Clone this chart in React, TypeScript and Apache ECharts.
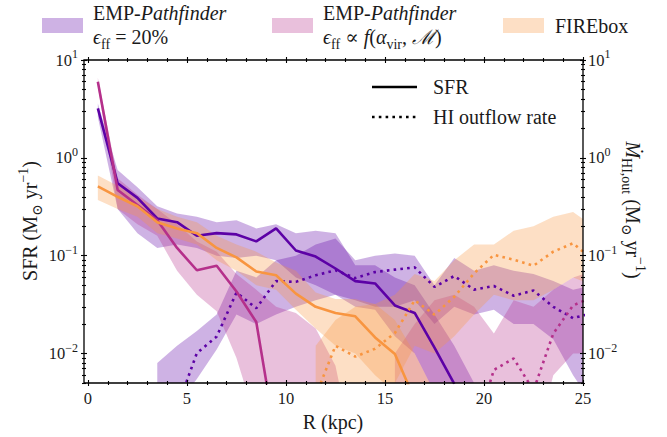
import React, { useEffect, useRef } from 'react';
import * as echarts from 'echarts';

// Bin centres (kpc)
const R = [0.5, 1.5, 2.5, 3.5, 4.5, 5.5, 6.5, 7.5, 8.5, 9.5, 10.5, 11.5, 12.5, 13.5, 14.5, 15.5, 16.5, 17.5, 18.5, 19.5, 20.5, 21.5, 22.5, 23.5, 24.5, 25.5];

// EMP-Pathfinder, eps_ff = 20%
const sfrA = [3.2, 0.55, 0.39, 0.24, 0.22, 0.16, 0.17, 0.165, 0.14, 0.19, 0.113, 0.098, 0.074, 0.055, 0.052, 0.031, 0.026, 0.0115, 0.0049, null, null, null, null, null, null, null];
const sfrAHi = [3.6, 0.75, 0.5, 0.32, 0.27, 0.25, 0.22, 0.23, 0.19, 0.21, 0.17, 0.18, 0.17, 0.08, 0.08, 0.06, 0.05, 0.025, 0.012, 0.005, 0.001, null, null, null, null, null];
const sfrALo = [2.6, 0.3, 0.17, 0.12, 0.13, 0.12, 0.1, 0.095, 0.1, 0.09, 0.06, 0.05, 0.04, 0.03, 0.028, 0.015, 0.01, 0.004, 0.002, 0.001, 0.0005, null, null, null, null, null];
const outA = [null, null, null, null, 0.0028, 0.0101, 0.0149, 0.042, 0.029, 0.055, 0.054, 0.063, 0.071, 0.059, 0.068, 0.072, 0.076, 0.048, 0.062, 0.045, 0.049, 0.039, 0.044, 0.03, 0.023, 0.026];
const outAHi = [null, null, null, 0.008, 0.012, 0.017, 0.025, 0.07, 0.06, 0.09, 0.1, 0.13, 0.15, 0.09, 0.1, 0.105, 0.1, 0.05, 0.095, 0.07, 0.08, 0.07, 0.065, 0.055, 0.045, 0.05];
const outALo = [null, null, null, 0.001, 0.003, 0.0055, 0.011, 0.025, 0.02, 0.025, 0.03, 0.035, 0.04, 0.035, 0.03, 0.03, 0.035, 0.02, 0.03, 0.025, 0.028, 0.02, 0.02, 0.014, 0.006, 0.003];

// EMP-Pathfinder, eps_ff ∝ f(alpha_vir, M)
const sfrB = [6.0, 0.47, 0.33, 0.23, 0.12, 0.071, 0.079, 0.043, 0.021, 0.0013, null, null, null, null, null, null, null, null, null, null, null, null, null, null, null, null];
const sfrBHi = [6.6, 0.62, 0.42, 0.3, 0.21, 0.14, 0.11, 0.065, 0.045, 0.03, 0.026, 0.018, 0.0075, 0.0008, null, null, null, null, null, null, null, null, null, null, null, null];
const sfrBLo = [5.4, 0.3, 0.21, 0.16, 0.07, 0.04, 0.027, 0.009, 0.002, 0.001, 0.001, 0.001, 0.001, 0.0005, null, null, null, null, null, null, null, null, null, null, null, null];
const outB = [null, null, null, null, null, null, null, null, null, null, null, null, null, null, null, null, null, null, null, 0.0015, 0.0068, 0.0089, 0.0042, 0.016, 0.031, 0.038];
const outBHi = [null, null, null, null, null, null, null, null, null, null, null, null, null, null, null, 0.01, 0.02, 0.035, 0.04, 0.03, 0.016, 0.035, 0.03, 0.045, 0.06, 0.07];
const outBLo = [null, null, null, null, null, null, null, null, null, null, null, null, null, null, null, 0.001, 0.001, 0.001, 0.0015, 0.002, 0.001, 0.002, 0.001, 0.006, 0.01, 0.01];

// FIREbox
const sfrC = [0.51, 0.4, 0.32, 0.22, 0.19, 0.17, 0.12, 0.096, 0.069, 0.063, 0.041, 0.03, 0.026, 0.024, 0.0146, 0.0099, 0.0034, null, null, null, null, null, null, null, null, null];
const sfrCHi = [0.66, 0.52, 0.4, 0.3, 0.25, 0.22, 0.16, 0.13, 0.11, 0.085, 0.07, 0.042, 0.036, 0.036, 0.032, 0.022, 0.01, 0.004, null, null, null, null, null, null, null, null];
const sfrCLo = [0.37, 0.3, 0.25, 0.17, 0.15, 0.13, 0.09, 0.07, 0.05, 0.045, 0.028, 0.018, 0.012, 0.01, 0.006, 0.004, 0.002, 0.001, null, null, null, null, null, null, null, null];
const outC = [null, null, null, null, null, null, null, null, null, null, null, 0.0037, 0.012, 0.0093, 0.0112, 0.0162, 0.035, 0.025, 0.038, 0.066, 0.102, 0.091, 0.079, 0.11, 0.134, 0.09];
const outCHi = [null, null, null, null, null, null, null, null, null, null, null, 0.012, 0.022, 0.03, 0.032, 0.04, 0.065, 0.055, 0.09, 0.13, 0.13, 0.18, 0.2, 0.25, 0.28, 0.2];
const outCLo = [null, null, null, null, null, null, null, null, null, null, null, 0.001, 0.004, 0.003, 0.003, 0.005, 0.012, 0.01, 0.015, 0.025, 0.04, 0.035, 0.035, 0.045, 0.06, 0.05];

// Ticks
const xMajor = [0, 5, 10, 15, 20, 25];
const xMinor = [1, 2, 3, 4, 6, 7, 8, 9, 11, 12, 13, 14, 16, 17, 18, 19, 21, 22, 23, 24];
const yMajor = [0.01, 0.1, 1, 10];
const yMinor = [0.005, 0.006, 0.007, 0.008, 0.009, 0.02, 0.03, 0.04, 0.05, 0.06, 0.07, 0.08, 0.09, 0.2, 0.3, 0.4, 0.5, 0.6, 0.7, 0.8, 0.9, 2, 3, 4, 5, 6, 7, 8, 9];

const C_A = '#5c01a6';
const C_B = '#b5308b';
const C_C = '#f89540';
const FONT = "'Liberation Serif', 'DejaVu Serif', serif";
const TXT = '#1a1a1a';

const richText = {
  r: { fontFamily: FONT, fontSize: 20, lineHeight: 28, verticalAlign: 'middle', fill: TXT },
  i: { fontFamily: FONT, fontSize: 20, lineHeight: 28, verticalAlign: 'middle', fontStyle: 'italic', fill: TXT },
  sub: { fontFamily: FONT, fontSize: 14, lineHeight: 14, verticalAlign: 'bottom', fill: TXT },
  sup: { fontFamily: FONT, fontSize: 14, lineHeight: 18, verticalAlign: 'top', fill: TXT },
};

const tickRich = {
  b: { fontFamily: FONT, fontSize: 16.5, lineHeight: 24, verticalAlign: 'middle', color: TXT },
  s: { fontFamily: FONT, fontSize: 12, lineHeight: 15, verticalAlign: 'top', color: TXT },
};

const pts = (arr: (number | null)[]) => R.map((x, i) => [x, arr[i] == null ? '-' : arr[i]]);

function hexA(hex: string, a: number) {
  const n = parseInt(hex.slice(1), 16);
  return 'rgba(' + ((n >> 16) & 255) + ',' + ((n >> 8) & 255) + ',' + (n & 255) + ',' + a + ')';
}

// Shaded band between lo and hi, drawn as polygons through the axes' coordinate mapping
function band(lo: (number | null)[], hi: (number | null)[], color: string) {
  return {
    type: 'custom',
    silent: true,
    clip: true,
    z: 1,
    data: [[R[0], 1]],
    encode: { x: 0, y: 1 },
    renderItem: (params: any, api: any) => {
      if (params.dataIndex !== 0) return null;
      const segs: number[][] = [];
      let cur: number[] = [];
      for (let i = 0; i < R.length; i++) {
        if (lo[i] == null || hi[i] == null) {
          if (cur.length) segs.push(cur);
          cur = [];
        } else cur.push(i);
      }
      if (cur.length) segs.push(cur);
      const children = segs.filter((s) => s.length > 1).map((s) => {
        const top = s.map((i) => api.coord([R[i], hi[i]]));
        const bot = s.slice().reverse().map((i) => api.coord([R[i], lo[i]]));
        return { type: 'polygon', shape: { points: top.concat(bot) }, style: { fill: hexA(color, 0.3), stroke: 'none' } };
      });
      return { type: 'group', children };
    },
  };
}

function line(arr: (number | null)[], color: string, dotted: boolean) {
  return {
    type: 'line', data: pts(arr), symbol: 'none', silent: true, z: 3,
    lineStyle: { color, width: 2.6, type: dotted ? [2.6, 4.2] : 'solid', cap: 'butt' },
  };
}

function xAxisDef(pos: 'top' | 'bottom', major: boolean) {
  return {
    type: 'value', position: pos, min: -0.2, max: 25, gridIndex: 0, z: 10,
    offset: major ? 3 : 2,
    axisLine: { show: false, onZero: false },
    splitLine: { show: false },
    axisTick: { show: true, inside: true, length: major ? 6 : 4, customValues: major ? xMajor : xMinor, lineStyle: { color: '#000', width: 1.1 } },
    axisLabel: pos === 'bottom' && major
      ? { show: true, customValues: xMajor, margin: 4, fontFamily: FONT, fontSize: 16.5, color: TXT }
      : { show: false },
  };
}

function yAxisDef(pos: 'left' | 'right', major: boolean) {
  return {
    type: 'log', position: pos, min: 0.005, max: 10, gridIndex: 0, z: 10,
    offset: major ? 3 : 2,
    axisLine: { show: false, onZero: false },
    splitLine: { show: false },
    minorTick: { show: false },
    axisTick: { show: true, inside: true, length: major ? 6 : 4, customValues: major ? yMajor : yMinor, lineStyle: { color: '#000', width: 1.1 } },
    axisLabel: major
      ? {
          show: true, customValues: yMajor, margin: pos === 'left' ? 3 : 2,
          fontFamily: FONT,
          formatter: (v: number) => {
            const e = Math.round(Math.log10(v));
            return '{b|10}{s|' + (e < 0 ? '\u2212' + -e : String(e)) + '}';
          },
          rich: tickRich,
        }
      : { show: false },
  };
}

const T = (x: number, y: number, text: string, extra: any = {}) => ({
  type: 'text', x, y, rotation: extra.rotation || 0,
  style: { text, rich: richText, fontFamily: FONT, fontSize: 20, fill: TXT, align: extra.align || 'left', verticalAlign: 'middle' },
});

const legendTop = [
  { type: 'rect', shape: { x: 42, y: 18, width: 41, height: 15 }, style: { fill: hexA(C_A, 0.3) } },
  T(93, 13, '{r|EMP-}{i|Pathfinder}'),
  T(93, 37, '{i|\u03f5}{sub|ff}{r| = 20%}'),
  { type: 'rect', shape: { x: 272, y: 18, width: 41, height: 15 }, style: { fill: hexA(C_B, 0.3) } },
  T(323, 13, '{r|EMP-}{i|Pathfinder}'),
  T(323, 37, '{i|\u03f5}{sub|ff}{r| \u221d }{i|f}{r|(}{i|\u03b1}{sub|vir}{r|, }{i|\u2133}{r|)}'),
  { type: 'rect', shape: { x: 503, y: 18, width: 41, height: 15 }, style: { fill: hexA(C_C, 0.3) } },
  T(555, 26, '{r|FIREbox}'),
];

const legendInner = [
  { type: 'line', shape: { x1: 372, y1: 87, x2: 417, y2: 87 }, style: { stroke: '#000', lineWidth: 2.6 } },
  T(433, 87, '{r|SFR}'),
  { type: 'line', shape: { x1: 372, y1: 117, x2: 417, y2: 117 }, style: { stroke: '#000', lineWidth: 2.6, lineDash: [2.6, 4.2] } },
  T(433, 117, '{r|HI outflow rate}'),
];

const titles = [
  T(333, 422, '{r|R (kpc)}', { align: 'center' }),
  T(30, 221, '{r|SFR (M}{sub|\u2299}{r| yr}{sup|\u22121}{r|)}', { align: 'center', rotation: Math.PI / 2 }),
  T(633, 210, '{i|\u1e40}{sub|HI,out}{r| (M}{sub|\u2299}{r| yr}{sup|\u22121}{r|)}', { align: 'center', rotation: -Math.PI / 2 }),
];

export default function App() {
  const ref = useRef<HTMLDivElement>(null);
  useEffect(() => {
    const chart = echarts.init(ref.current as HTMLDivElement, undefined, { renderer: 'svg' });
    const option: any = {
      animation: false,
      backgroundColor: '#fff',
      grid: { left: 84, top: 60, width: 499, height: 323, show: true, borderColor: '#000', borderWidth: 1.3, backgroundColor: 'transparent', z: 10, outerBoundsMode: 'none' },
      xAxis: [xAxisDef('bottom', true), xAxisDef('bottom', false), xAxisDef('top', true), xAxisDef('top', false)],
      yAxis: [yAxisDef('left', true), yAxisDef('left', false), yAxisDef('right', true), yAxisDef('right', false)],
      series: [
        band(sfrALo, sfrAHi, C_A),
        band(outALo, outAHi, C_A),
        band(sfrBLo, sfrBHi, C_B),
        band(outBLo, outBHi, C_B),
        band(sfrCLo, sfrCHi, C_C),
        band(outCLo, outCHi, C_C),
        line(sfrA, C_A, false),
        line(outA, C_A, true),
        line(sfrB, C_B, false),
        line(outB, C_B, true),
        line(sfrC, C_C, false),
        line(outC, C_C, true),
      ],
      graphic: [...legendTop, ...legendInner, ...titles],
    };
    chart.setOption(option);
    return () => chart.dispose();
  }, []);
  return <div ref={ref} style={{ position: 'fixed', left: 0, top: 0, width: 667, height: 437, background: '#fff' }} />;
}
